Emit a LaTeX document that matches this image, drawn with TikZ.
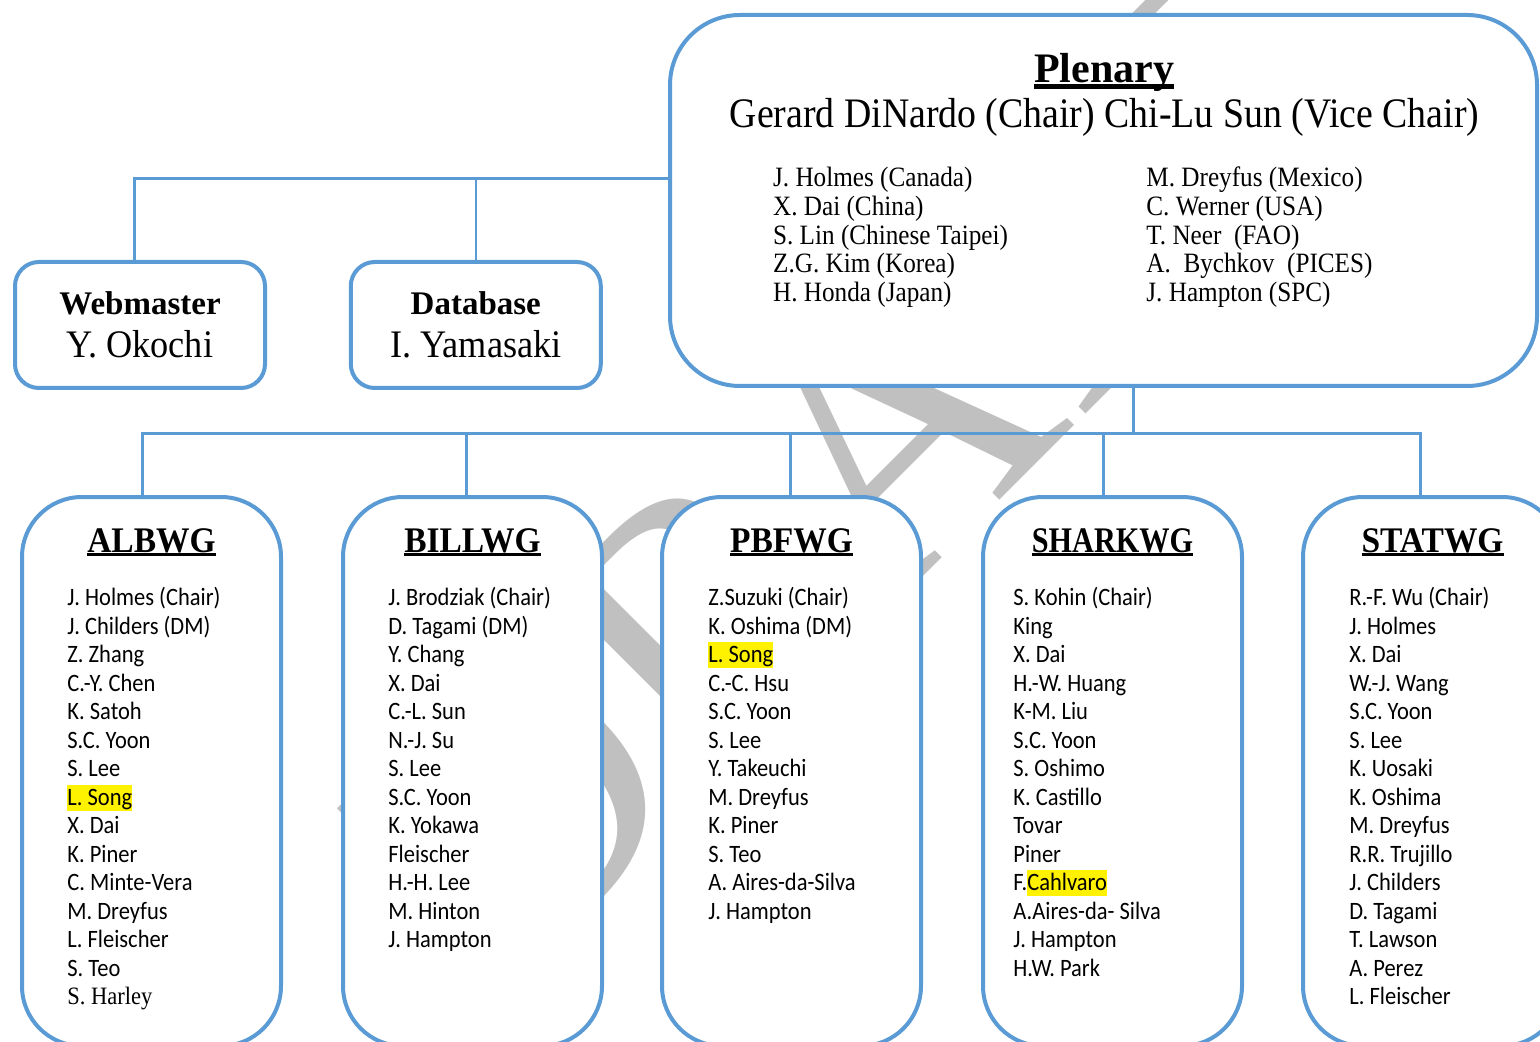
\documentclass[tikz,border=0pt]{standalone}
\usepackage{fontspec}
\setmainfont{Liberation Serif}
\newfontfamily\calib[FakeStretch=0.9]{Carlito}
\newfontfamily\timesn[FakeStretch=0.9]{Liberation Serif}
\newfontfamily\timesw[FakeStretch=0.93]{Liberation Serif}
\newfontfamily\timesk[FakeStretch=0.84]{Liberation Serif}

\definecolor{iscblue}{HTML}{5B9BD5}
\definecolor{wmgray}{HTML}{C0C0C0}

\newcommand{\hlt}[1]{{\fboxsep=0pt\colorbox{yellow}{\vrule height 10.2pt depth 2.8pt width 0pt#1}}}
\newcommand{\undl}[3]{\setbox0=\hbox{#1}\rlap{\copy0}\rule[-#2]{\wd0}{#3}}

\begin{document}
\begin{tikzpicture}[x=0.5pt,y=-0.5pt,
		link/.style={draw=iscblue,line width=1.5pt},
		orgbox/.style={draw=iscblue,line width=2pt,fill=white,inner sep=0pt},
		wgbox/.style={orgbox,rounded corners=30pt,minimum width=129.5pt,minimum height=274.5pt},
		smallbox/.style={orgbox,rounded corners=12pt,minimum width=125pt,minimum height=63pt},
		wgtitle/.style={anchor=base,inner sep=0pt,font=\timesw\bfseries\fontsize{18}{18}\selectfont},
		member/.style={anchor=base west,inner sep=0pt,font=\calib\fontsize{12.5}{15}\selectfont},
		delegate/.style={anchor=base west,inner sep=0pt,font=\timesn\fontsize{14}{14}\selectfont},
		smrole/.style={anchor=base,inner sep=0pt,font=\bfseries\fontsize{16.5}{16.5}\selectfont},
		smname/.style={anchor=base,inner sep=0pt,font=\timesw\fontsize{19.5}{19.5}\selectfont},
		wmark/.style={anchor=base west,rotate=45,inner sep=0pt,text=wmgray,font=\fontsize{191}{191}\selectfont}]
		
		\useasboundingbox (0,0) rectangle (1540,1042);
		
		%watermark
		\node[wmark] (draft) at (506,994) {DRAFT};
		
		%boxes
		\node[orgbox,rounded corners=35pt,minimum width=433.5pt,minimum height=185.5pt] (plen) at (1103.5,200.5) {};
		\node[smallbox] (web) at (140,325) {};
		\node[smallbox] (db) at (475.8,325) {};
		\foreach \wg/\cx in {alb/151.5,bill/472.5,pbf/791.5,shark/1112.5,stat/1432.5}
		\node[wgbox] (\wg) at (\cx,771.5) {};
		
		%lines
		\coordinate (tbus) at (0,179);
		\coordinate (lbus) at (0,434);
		\draw[link] (plen.west |- tbus) -| ([xshift=-2.6pt]web.north);
		\draw[link,line width=1pt] (db.north) -- (db.north |- tbus);
		\draw[link] ([xshift=14.75pt]plen.south) -- ([xshift=14.75pt]plen.south |- lbus);
		\draw[link] ([xshift=-4.75pt]alb.north) |- ([xshift=-6.25pt]stat.north |- lbus) -- ([xshift=-6.25pt]stat.north);
		\foreach \wg/\dx in {bill/-3.25pt,pbf/-0.75pt,shark/-4.75pt}
		\draw[link] ([xshift=\dx]\wg.north) -- ([xshift=\dx]\wg.north |- lbus);
		
		%plenary
		\node[anchor=base,inner sep=0pt,font=\bfseries\fontsize{21}{21}\selectfont] (plen-title) at (1104,82.7) {\undl{Plenary}{3.3pt}{2.4pt}};
		\node[anchor=base,inner sep=0pt,font=\timesn\fontsize{21}{21}\selectfont] (plen-sub) at (1104.5,127.3) {Gerard DiNardo (Chair) Chi-Lu Sun (Vice Chair)};
		\foreach \col/\lx/\names in {l/772.7/{J. Holmes (Canada),X. Dai (China),S. Lin (Chinese Taipei),Z.G. Kim (Korea),H. Honda (Japan)},
			r/1146/{M. Dreyfus (Mexico),C. Werner (USA),T. Neer\ \ (FAO),A.\ \ Bychkov\ \ (PICES),J. Hampton (SPC)}}
		\foreach[count=\i] \nm in \names
		\node[delegate] (plen-\col\i) at (\lx,{186.7+28.75*(\i-1)}) {\nm};
		
		%webmaster, database
		\coordinate (rline) at (0,315);
		\coordinate (nline) at (0,357.3);
		\foreach \bx/\role/\who in {web/Webmaster/Y. Okochi,db/Database/I. Yamasaki}{
			\node[smrole] (\bx-role) at (\bx.center |- rline) {\role};
			\node[smname] (\bx-name) at (\bx.center |- nline) {\who};
		}
		
		%working groups
		\coordinate (tline) at (0,552);
		\foreach \wg/\wgname/\lx/\names in {
			alb/ALBWG/67/{J. Holmes (Chair),J. Childers (DM),Z. Zhang,C.-Y. Chen,K. Satoh,S.C. Yoon,S. Lee,\hlt{L. Song},X. Dai,K. Piner,C. Minte-Vera,M. Dreyfus,L. Fleischer,S. Teo,{\timesn S. Harley}},
			bill/BILLWG/388/{J. Brodziak (Chair),D. Tagami (DM),Y. Chang,X. Dai,C.-L. Sun,N.-J. Su,S. Lee,S.C. Yoon,K. Yokawa,Fleischer,H.-H. Lee,M. Hinton,J. Hampton},
			pbf/PBFWG/708/{Z.Suzuki (Chair),K. Oshima (DM),\hlt{L. Song},C.-C. Hsu,S.C. Yoon,S. Lee,Y. Takeuchi,M. Dreyfus,K. Piner,S. Teo,A. Aires-da-Silva,J. Hampton},
			shark/{\timesk SHARKWG}/1013/{S. Kohin (Chair),King,X. Dai,H.-W. Huang,K-M. Liu,S.C. Yoon,S. Oshimo,K. Castillo,Tovar,Piner,F.\hlt{Cahlvaro},A.Aires-da- Silva,J. Hampton,H.W. Park},
			stat/STATWG/1349/{R.-F. Wu (Chair),J. Holmes,X. Dai,W.-J. Wang,S.C. Yoon,S. Lee,K. Uosaki,K. Oshima,M. Dreyfus,R.R. Trujillo,J. Childers,D. Tagami,T. Lawson,A. Perez,L. Fleischer}}{
			\node[wgtitle] (\wg-title) at (\wg.center |- tline) {\undl{\wgname}{2.1pt}{1.7pt}};
			\foreach[count=\i] \nm in \names
			\node[member] (\wg-\i) at (\lx,{605.5+28.5*(\i-1)}) {\nm};
		}
		
	\end{tikzpicture}
\end{document}
